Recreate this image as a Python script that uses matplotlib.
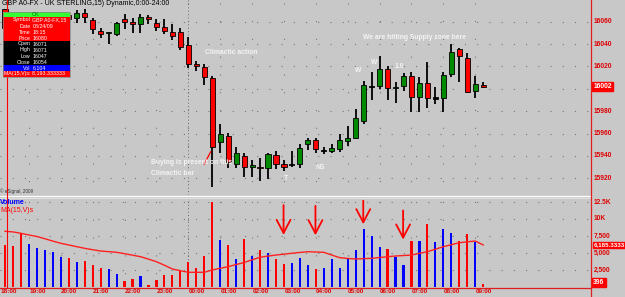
import matplotlib
matplotlib.use('Agg')
import matplotlib.pyplot as plt
from matplotlib.patches import Rectangle
import numpy as np

# ---------------- data ----------------
opens = [16071, 16054, 16049, 16044, 16050, 16054, 16058, 16061, 16066, 16063,
         16067.5, 16061.5, 16051.7, 16049.6, 16048.7, 16062.4, 16060, 16057.7, 16064.5, 16058.6,
         16055.5, 16050.5, 16051, 16039.2, 16022.2, 16019.2, 16009.4, 15952.7, 15958.1, 15932.8,
         15940.2, 15930.5, 15930.4, 15928.9, 15940.8, 15932.8, 15932.0, 15932.8, 15950.7, 15954.2,
         15944.7, 15944.4, 15946.2, 15953.6, 15956.3, 15971.5, 16002.3, 16002.5, 16017.4, 16001.0,
         16002.8, 16011.4, 15992.4, 16005.5, 15991.8, 15991.5, 16013.2, 16035.3, 16027.3, 15998.0,
         16003.7]
highs = [16071, 16058, 16052, 16052, 16056, 16060, 16063, 16066, 16067, 16070.4,
         16071, 16063, 16054.6, 16051, 16060, 16066.9, 16063, 16066.9, 16066, 16062.4,
         16062.4, 16057.7, 16054.1, 16046.6, 16025.1, 16022.2, 16011.4, 15968.5, 15960.2, 15948.2,
         15942.3, 15936.4, 15937.9, 15942.9, 15944.4, 15936.4, 15944.4, 15950.4, 15956.3, 15955.7,
         15948.2, 15950.7, 15959.3, 15967.0, 15981.7, 16007.0, 16015.3, 16029.3, 16020.4, 16006.3,
         16013.9, 16015.3, 16010.3, 16024.2, 16001.9, 16015.3, 16040.0, 16036.2, 16032.3, 16011.7,
         16005.8]
lows = [16047, 16046, 16040, 16042, 16047, 16051, 16055, 16058, 16058, 16059,
        16059, 16048.7, 16045.7, 16039.8, 16047.5, 16053.2, 16049.6, 16049.6, 16057.7, 16051.7,
        16048.7, 16043.6, 16034.7, 16018.3, 16015.9, 16003.4, 15912.5, 15942.3, 15928.9, 15928.9,
        15921.4, 15921.4, 15917.8, 15919.1, 15928.0, 15926.5, 15930.4, 15929.5, 15945.3, 15942.3,
        15941.7, 15942.3, 15943.8, 15948.9, 15954.9, 15968.3, 15990.0, 15999.6, 15990.0, 15987.0,
        15998.0, 15979.0, 15979.5, 15982.6, 15986.4, 15979.0, 16010.3, 16006.3, 15996.5, 15991.5,
        16000.4]
closes = [16054, 16049, 16044, 16050, 16054, 16058, 16061, 16064, 16062, 16068,
          16064, 16053.2, 16048.7, 16050.8, 16059.1, 16059.7, 16057.7, 16064.5, 16062.7, 16055.5,
          16051.9, 16047.2, 16037.6, 16021.9, 16020.4, 16010.3, 15947.7, 15959.6, 15934.3, 15942.9,
          15930.4, 15931.7, 15928.9, 15941.7, 15932.8, 15930.4, 15932.0, 15947.3, 15954.2, 15946.2,
          15944.7, 15947.3, 15954.2, 15956.3, 15974.2, 16003.4, 16002.3, 16017.4, 16000.4, 16001.9,
          16011.4, 15992.4, 16005.5, 15991.5, 15991.8, 16012.3, 16033.2, 16029.3, 15997.4, 16004.3,
          16002.0]
volumes = [6104, 6000, 7900, 6300, 5700, 5400, 5100, 4400, 4200, 3700,
           3800, 3300, 2800, 2650, 1900, 930, 1180, 1650, 300, 1030,
           1760, 1760, 2450, 3700, 2750, 4550, 12450, 6900, 6150, 4100,
           7000, 4550, 5450, 4950, 4100, 3400, 3600, 4300, 3250, 2650,
           2850, 4100, 2850, 4300, 5450, 8600, 7500, 5900, 5600, 4450,
           3300, 6800, 6750, 9300, 6650, 8500, 7950, 6750, 7750, 6550,
           396]
ma15 = [8193, 8100, 7900, 7650, 7430, 7100, 6750, 6430, 6180, 5930,
        5690, 5480, 5290, 5200, 5100, 4900, 4680, 4460, 4100, 3720,
        3200, 2650, 2400, 2160, 2160, 2160, 2500, 2750, 2990, 3300,
        3600, 4000, 4370, 4550, 4700, 4830, 4960, 5080, 5190, 5150,
        5100, 4700, 4310, 4200, 4120, 4170, 4220, 4330, 4450, 4560,
        4630, 4700, 4950, 5190, 5560, 5930, 6220, 6510, 6640, 6760,
        6185.333333]
hour_labels = ['18:00', '19:00', '20:00', '21:00', '22:00', '23:00', '00:00', '01:00',
               '02:00', '03:00', '04:00', '05:00', '06:00', '07:00', '08:00', '09:00']
price_ticks = [15920, 15940, 15960, 15980, 16020, 16040, 16060]
vol_ticks = [2500, 5000, 7500, 10000, 12500]
vol_tick_labels = ['2,500', '5,000', '7,500', '10K', '12.5K']
info_labels = ['Symbol', 'Date', 'Time', 'Price', 'Open', 'High', 'Low', 'Close', 'Vol', 'MA(15,V)s']
info_values = ['GBP A0-FX,15', '08/24/09', '18:15', '16080', '16071', '16071', '16047', '16054',
               '6,104', '8,193.333333']

# ---------------- layout ----------------
W, H = 625, 297
BG = '#c8c8c8'
X0, XS = 5.0, 7.97          # pixel of bar 0, pixels per bar
RIGHT = 591                  # right axis pixel
fig = plt.figure(figsize=(W / 100, H / 100), dpi=100)
fig.patch.set_facecolor(BG)

xlim = (-X0 / XS, (RIGHT - X0) / XS)
axp = fig.add_axes([0, (H - 195) / H, RIGHT / W, 195 / H])
axv = fig.add_axes([0, (H - 287) / H, RIGHT / W, (287 - 198) / H])
for ax in (axp, axv):
    ax.set_facecolor(BG)
    ax.set_xlim(*xlim)
    for s in ax.spines.values():
        s.set_visible(False)
    ax.set_xticks([]); ax.set_yticks([])

ppx = 1.1186  # px per price unit
axp.set_ylim(16000 - (195 - 88.8) / ppx, 16000 + 88.8 / ppx)
axv.set_ylim(0, (287 - 198) / 0.0068)

n = len(closes)
idx = np.arange(n)
hour_idx = np.arange(len(hour_labels)) * 4 - 1

GRID = '#777777'
for lv in price_ticks + [16000]:
    axp.axhline(lv, color=GRID, lw=0.8, ls=(0, (1, 10)), zorder=0)
for lv in vol_ticks:
    axv.axhline(lv, color=GRID, lw=0.8, ls=(0, (1, 10)), zorder=0)
for hx in hour_idx:
    for ax in (axp, axv):
        ax.axvline(hx, color=GRID, lw=0.8, ls=(4, (1, 15)), zorder=0)
# session separator at 00:00
sess = hour_idx[hour_labels.index('00:00')]
for ax in (axp, axv):
    ax.axvline(sess, color='#666666', lw=0.7, ls=(0, (1, 2.5)), zorder=0)

# candles
o = np.array(opens); c = np.array(closes); hi = np.array(highs); lo = np.array(lows)
up = c >= o
axp.vlines(idx, lo, hi, color='black', lw=1.3, zorder=2)
body_col = np.where(c > o, '#008a00', np.where(c < o, '#ff0000', '#000000'))
bh = np.maximum(np.abs(c - o), 1.0)
bb = np.where(np.abs(c - o) < 1.0, (o + c) / 2 - 0.5, np.minimum(o, c))
axp.bar(idx, bh, bottom=bb, width=0.64, color=body_col, edgecolor='black', lw=0.6, zorder=3)

# volume
vcol = np.where(up, '#0000ff', '#ff0000')
axv.bar(idx, volumes, width=0.27, color=vcol, zorder=2)
axv.plot(idx, ma15, color='#ff2020', lw=1.0, zorder=3)

# arrows (annotations) : bar index, tip value, tail value
arrows = [(35, 7250, 12450), (39, 7200, 12350), (45, 8820, 13100), (50, 6570, 11660)]
for xi, tip, tail in arrows:
    axv.annotate('', xy=(xi - 0.05, tip), xytext=(xi - 0.05, tail),
                 arrowprops=dict(arrowstyle='->,head_length=0.95,head_width=0.5',
                                 color='#ff0000', lw=1.3, mutation_scale=10), zorder=5)

# overlay in pixel coordinates
ov = fig.add_axes([0, 0, 1, 1])
ov.set_xlim(0, W); ov.set_ylim(H, 0); ov.axis('off'); ov.patch.set_alpha(0)

# borders and axes lines
ov.plot([0, RIGHT], [195.5, 195.5], color='white', lw=0.9)
ov.plot([0, RIGHT], [197.5, 197.5], color='#e8e8e8', lw=0.6)
ov.plot([RIGHT, RIGHT], [0, H], color='#e02020', lw=0.9)
ov.plot([0, RIGHT], [287.5, 287.5], color='#e02020', lw=0.9)
# cursor line
ov.plot([6.7, 6.7], [0, 287], color='#ff0000', lw=0.8)

FN = ['Liberation Sans', 'DejaVu Sans']
RED = '#e00000'
# right price labels
trp = axp.get_yaxis_transform()
for p in price_ticks:
    axp.text(1.004, p, str(p), transform=trp, ha='left', va='center', fontsize=4.8,
             color=RED, family=FN, weight='bold', clip_on=False)
last = closes[-1]
axp.text(1.004, last, f'{last:.0f}', transform=trp, ha='left', va='center', fontsize=4.8,
         color='white', family=FN, weight='bold', clip_on=False,
         bbox=dict(boxstyle='square,pad=0.15', fc='#ff0000', ec='#ff0000'))
trv = axv.get_yaxis_transform()
for v, lab in zip(vol_ticks, vol_tick_labels):
    axv.text(1.004, v, lab, transform=trv, ha='left', va='center', fontsize=4.8,
             color=RED, family=FN, weight='bold', clip_on=False)
axv.text(1.004, ma15[-1], f'{ma15[-1]:,.4f}', transform=trv, ha='left', va='center', fontsize=4.4,
         color='white', family=FN, weight='bold', clip_on=False,
         bbox=dict(boxstyle='square,pad=0.12', fc='#ff0000', ec='#ff0000'))
axv.text(1.004, volumes[-1] + 200, f'{volumes[-1]}', transform=trv, ha='left', va='center',
         fontsize=4.8, color='white', family=FN, weight='bold', clip_on=False,
         bbox=dict(boxstyle='square,pad=0.15', fc='#ff0000', ec='#ff0000'))
# time labels
trx = axv.get_xaxis_transform()
for hx, lab in zip(hour_idx, hour_labels):
    xx = max(hx + 0.05, xlim[0] + 0.05)
    axv.text(xx, -0.05, lab, transform=trx, ha='left', va='center', fontsize=4.6,
             color=RED, family=FN, weight='bold', clip_on=False)

# title & copyright
ov.text(1.5, 3.5, 'GBP A0-FX - UK STERLING,15) Dynamic,0:00-24:00', fontsize=5.0,
        family=FN, color='black', ha='left', va='center')
ov.text(0.5, 191.5, '© eSignal, 2009', fontsize=3.3, family=FN, color='#333333', ha='left', va='center')
ov.text(0, 202.5, 'Volume', fontsize=5.0, family=FN, color='#0000ff', weight='bold',
        ha='left', va='center')
ov.text(0, 210.5, 'MA(15,V)s', fontsize=5.0, family=FN, color='#ff0000', ha='left', va='center')

# info box
bx0, bx1 = 2.7, 70
ov.add_patch(Rectangle((bx0, 11.7), bx1 - bx0, 5, fc='#33ff33', ec='none', zorder=6))
ov.add_patch(Rectangle((bx0, 16.7), bx1 - bx0, 24.3, fc='#ff0000', ec='none', zorder=6))
ov.add_patch(Rectangle((bx0, 41), bx1 - bx0, 24, fc='#000000', ec='none', zorder=6))
ov.add_patch(Rectangle((bx0, 65), bx1 - bx0, 5.7, fc='#0000ff', ec='none', zorder=6))
ov.add_patch(Rectangle((bx0, 70.7), bx1 - bx0, 6, fc='#ff0000', ec='none', zorder=6))
ov.add_patch(Rectangle((bx0, 11.7), bx1 - bx0, 65, fc='none', ec='#888888', lw=0.5, zorder=7))
ov.text(36, 14.2, 'OK', fontsize=3.8, family=FN, color='#006600', ha='center', va='center', zorder=8)
for k, (lab, val) in enumerate(zip(info_labels, info_values)):
    yy = 20 + k * 6
    if lab == 'MA(15,V)s':
        ov.text(bx0 + 1, yy - 0.3, f'{lab}: {val}', fontsize=3.8, family=FN, color='white',
                ha='left', va='center', zorder=8)
    else:
        ov.text(30.5, yy, lab, fontsize=3.8, family=FN, color='white', ha='right', va='center', zorder=8)
        ov.text(32.5, yy, val, fontsize=3.8, family=FN, color='white', ha='left', va='center', zorder=8)

# annotations
TC = '#f4f4f4'
def note(x, y, s):
    ov.text(x, y, s, fontsize=4.9, family=FN, color=TC, weight='bold', ha='left', va='center')
note(205, 53, 'Climactic action')
note(151, 162.5, 'Buying is present on this')
note(151, 173.5, 'Climactic bar')
note(284, 179, 'T')
note(316, 167.5, 'NS')
note(355, 70, 'W')
note(371, 62, 'W')
note(395, 66, '1.0')
note(363, 37.5, 'We are hitting Supply zone here')
ov.plot([204.3, 210.7], [164, 151.7], color='#ff0000', lw=0.9)

fig.savefig('out.png', dpi=100, facecolor=BG)
